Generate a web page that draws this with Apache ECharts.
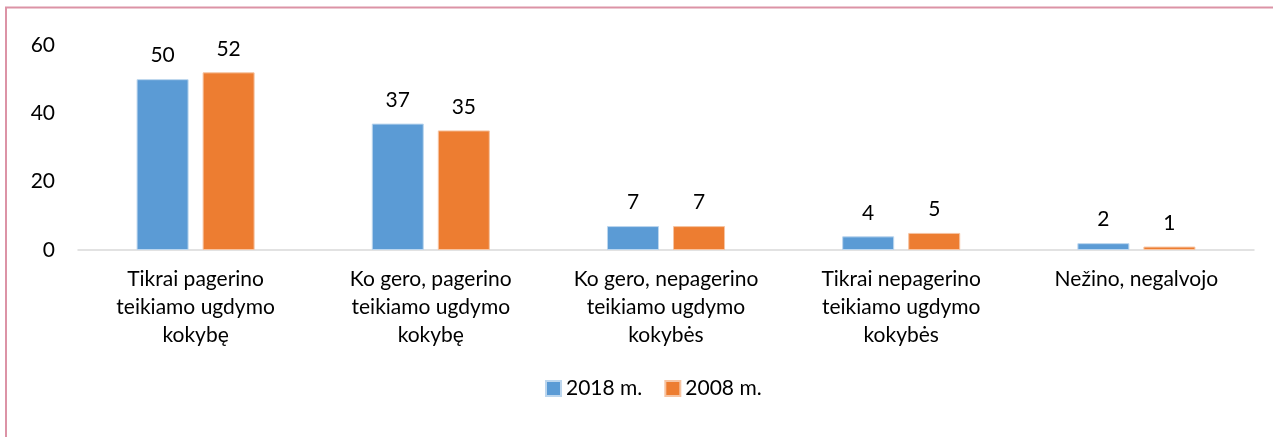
<!DOCTYPE html>
<html>
<head>
<meta charset="utf-8">
<script src="https://cdn.jsdelivr.net/npm/echarts@6/dist/echarts.min.js"></script>
<style>
  html, body { margin: 0; padding: 0; background: #fff; }
  #chart { width: 1273px; height: 437px; }
</style>
</head>
<body>
<div id="chart"></div>
<script>
// Survey answers: how the change affected the quality of education provided
const categories = [
  'Tikrai pagerino\nteikiamo ugdymo\nkokybę',
  'Ko gero, pagerino\nteikiamo ugdymo\nkokybę',
  'Ko gero, nepagerino\nteikiamo ugdymo\nkokybės',
  'Tikrai nepagerino\nteikiamo ugdymo\nkokybės',
  'Nežino, negalvojo'
];
const seriesNames = ['2018 m.', '2008 m.'];
const values2018 = [50, 37, 7, 4, 2];
const values2008 = [52, 35, 7, 5, 1];
const yTicks = [0, 20, 40, 60];

const FONT = 'Lato, "Open Sans", sans-serif';
const FS = 21;
const chart = echarts.init(document.getElementById('chart'));

const labelStyle = {
  show: true,
  position: 'top',
  distance: 13,
  color: '#000',
  fontFamily: FONT,
  fontSize: FS
};

chart.setOption({
  animation: false,
  graphic: [{
    type: 'rect',
    shape: { x: 6, y: 7.5, width: 1400, height: 600 },
    style: { fill: 'none', stroke: '#dc93a6', lineWidth: 2 },
    silent: true
  }],
  grid: { left: 78, right: 19, top: 45, bottom: 187, containLabel: false },
  legend: {
    data: seriesNames,
    bottom: 33,
    left: 540,
    icon: 'rect',
    itemWidth: 15,
    itemHeight: 15,
    itemGap: 22,
    textStyle: { color: '#000', fontFamily: FONT, fontSize: FS }
  },
  xAxis: {
    type: 'category',
    data: categories,
    axisLine: { show: true, lineStyle: { color: '#d9d9d9', width: 1.5 } },
    axisTick: { show: false },
    axisLabel: {
      color: '#000',
      fontFamily: FONT,
      fontSize: FS,
      lineHeight: 28,
      margin: 15,
      interval: 0
    }
  },
  yAxis: {
    type: 'value',
    min: 0,
    max: 60,
    interval: 20,
    splitLine: { show: false },
    axisLine: { show: false },
    axisTick: { show: false },
    axisLabel: {
      color: '#000',
      fontFamily: FONT,
      fontSize: FS,
      margin: 23,
      formatter: v => yTicks.includes(v) ? String(v) : ''
    }
  },
  series: [
    {
      name: seriesNames[0],
      type: 'bar',
      data: values2018,
      barWidth: 52,
      barGap: '27%',
      itemStyle: { color: '#5b9bd5', borderColor: '#bcd6ee', borderWidth: 1 },
      label: labelStyle
    },
    {
      name: seriesNames[1],
      type: 'bar',
      data: values2008,
      barWidth: 52,
      barGap: '27%',
      itemStyle: { color: '#ed7d31', borderColor: '#f6c4a2', borderWidth: 1 },
      label: labelStyle
    }
  ]
});
</script>
</body>
</html>
